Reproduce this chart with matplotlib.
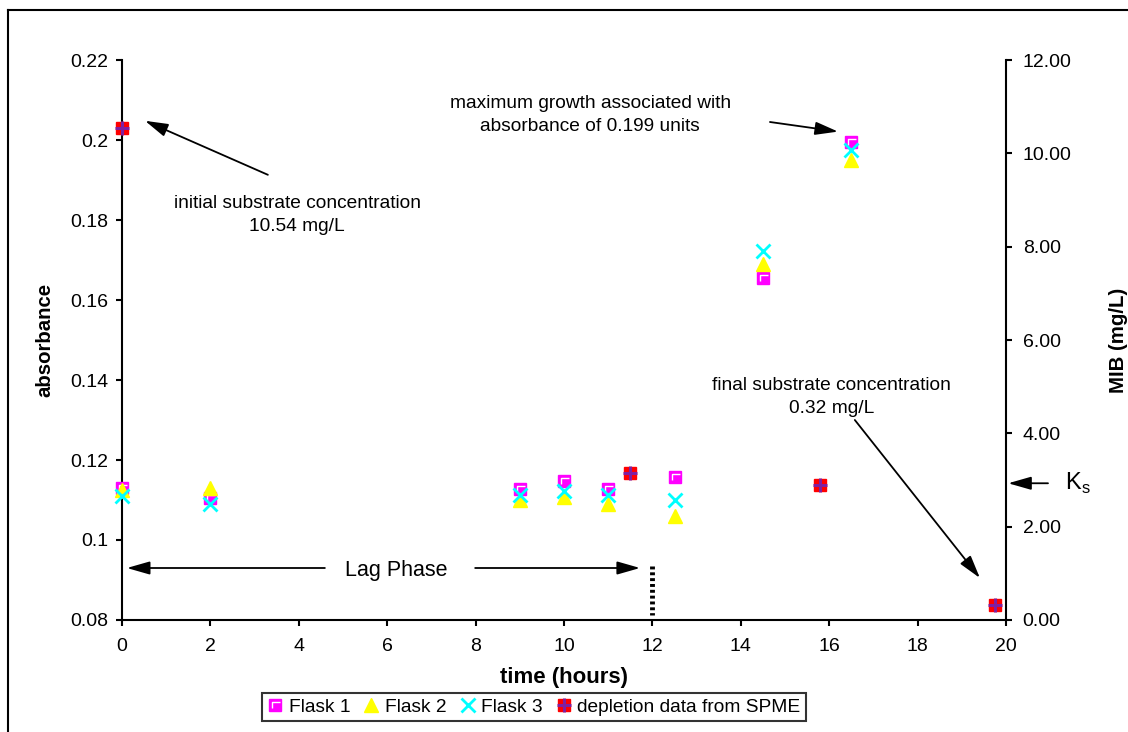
import matplotlib
matplotlib.use("Agg")
import matplotlib.pyplot as plt
from matplotlib.path import Path
from matplotlib.lines import Line2D
from matplotlib.ticker import FormatStrFormatter, MultipleLocator

plt.rcParams['font.family'] = ['Liberation Sans', 'DejaVu Sans']
plt.rcParams['mathtext.fontset'] = 'custom'
plt.rcParams['mathtext.rm'] = 'Liberation Sans'

# absorbance readings of the three flasks
flask_time = [0, 2, 9, 10, 11, 12.5, 14.5, 16.5]
flask1 = [0.113, 0.1105, 0.1128, 0.1147, 0.1128, 0.1157, 0.1656, 0.1995]
flask2 = [0.1125, 0.113, 0.110, 0.1108, 0.109, 0.106, 0.169, 0.195]
flask3 = [0.111, 0.109, 0.1113, 0.1123, 0.1113, 0.110, 0.1722, 0.1975]

# MIB depletion from SPME (mg/L)
spme_time = [0, 11.5, 15.8, 19.75]
spme_mib = [10.54, 3.15, 2.89, 0.32]

ks_value = 2.93
lag_end = 12

fig = plt.figure(figsize=(11.28, 7.32), dpi=100)
ax = fig.add_axes([122 / 1128, 1 - 620 / 732, 884 / 1128, 560 / 732])
ax2 = ax.twinx()

# outer frame (only top/left visible in the crop)
fig.add_artist(Line2D([8 / 1128, 8 / 1128], [0, 1 - 10 / 732], color='black', lw=1.5))
fig.add_artist(Line2D([8 / 1128, 1], [1 - 10 / 732, 1 - 10 / 732], color='black', lw=1.5))

# magenta square with the little white corner highlight
corner = Path([(0.5, 0.5), (-0.24, -0.27), (-0.24, 0.21), (0.36, 0.21)],
              [Path.MOVETO, Path.MOVETO, Path.LINETO, Path.LINETO])

ax.plot(flask_time, flask1, ls='none', marker='s', ms=9, color='#ff00ff', zorder=3,
        clip_on=False)
ax.plot(flask_time, flask1, ls='none', marker=corner, ms=9, mfc='none',
        mec='white', mew=1.0, zorder=3, clip_on=False)
ax.plot(flask_time, flask2, ls='none', marker='^', ms=10.5, color='#ffff00', zorder=4,
        clip_on=False)
ax.plot(flask_time, flask3, ls='none', marker='x', ms=9.5, mew=2.0, color='#00ffff',
        zorder=5, clip_on=False)

ax2.plot(spme_time, spme_mib, ls='none', marker='s', ms=9, color='#ff0000', zorder=3,
         clip_on=False)
ax2.plot(spme_time, spme_mib, ls='none', marker='+', ms=10, mew=2.2, color='#7f1fa0',
         zorder=4, clip_on=False)

ax.set_xlim(0, 20)
ax.set_ylim(0.08, 0.22)
ax2.set_ylim(0, 12)
ax.xaxis.set_major_locator(MultipleLocator(2))
ax.yaxis.set_major_locator(MultipleLocator(0.02))
ax.yaxis.set_major_formatter(FormatStrFormatter('%g'))
ax2.yaxis.set_major_locator(MultipleLocator(2))
ax2.yaxis.set_major_formatter(FormatStrFormatter('%.2f'))

for a in (ax, ax2):
    a.spines['top'].set_visible(False)
    for s in a.spines.values():
        s.set_linewidth(1.5)
ax.spines['right'].set_visible(False)
ax2.spines['left'].set_visible(False)
ax2.spines['bottom'].set_visible(False)
ax.tick_params(direction='out', length=4, width=1.5, labelsize=14, pad=6)
ax.tick_params(axis='x', pad=9)
ax2.tick_params(direction='out', length=4, width=1.5, labelsize=14, pad=8)

ax.set_xlabel('time (hours)', fontsize=16, fontweight='bold')
ax.xaxis.set_label_coords(0.5, -0.084)
ax.set_ylabel('absorbance', fontsize=14.7, fontweight='bold')
ax.yaxis.set_label_coords(-0.077, 0.5)
ax2.set_ylabel('MIB (mg/L)', fontsize=14.7, fontweight='bold')
ax2.yaxis.set_label_coords(1.116, 0.5)

arrow = dict(arrowstyle='-|>,head_length=1.4,head_width=0.4', color='black',
             lw=1.3, shrinkA=0, shrinkB=0)

ax.text(3.96, 0.1813, 'initial substrate concentration\n10.54 mg/L', ha='center',
        va='center', fontsize=13.8, linespacing=1.5)
ax.annotate('', xy=(0.52, 0.2048), xytext=(3.30, 0.1913), arrowprops=arrow)

ax.text(10.59, 0.2063, 'maximum growth associated with\nabsorbance of 0.199 units',
        ha='center', va='center', fontsize=13.8, linespacing=1.5)
ax.annotate('', xy=(16.2, 0.2021), xytext=(14.66, 0.2045), arrowprops=arrow)

ax.text(16.06, 0.1358, 'final substrate concentration\n0.32 mg/L', ha='center',
        va='center', fontsize=13.8, linespacing=1.5)
ax.annotate('', xy=(19.41, 0.0905), xytext=(16.58, 0.130), arrowprops=arrow)

# lag phase
ax.text(6.2, 0.0925, 'Lag Phase', ha='center', va='center', fontsize=15.5)
ax.annotate('', xy=(0.11, 0.093), xytext=(4.59, 0.093), arrowprops=arrow)
ax.annotate('', xy=(11.72, 0.093), xytext=(7.99, 0.093), arrowprops=arrow)
ax.plot([lag_end, lag_end], [0.0935, 0.0812], color='black', lw=3.5,
        ls=(0, (0.6, 0.6)), solid_capstyle='butt')

# Ks marker on the right axis
ax2.annotate('', xy=(20.05, ks_value), xytext=(20.95, ks_value), arrowprops=arrow,
             annotation_clip=False)
ax2.text(21.33, ks_value, r'K$_\mathrm{s}$', ha='left', va='center', fontsize=17,
         clip_on=False)

handles = [
    (Line2D([], [], ls='none', marker='s', ms=9, color='#ff00ff'),
     Line2D([], [], ls='none', marker=corner, ms=9, mfc='none', mec='white', mew=1.0)),
    Line2D([], [], ls='none', marker='^', ms=10.5, color='#ffff00'),
    Line2D([], [], ls='none', marker='x', ms=9.5, mew=2.0, color='#00ffff'),
    (Line2D([], [], ls='none', marker='s', ms=9, color='#ff0000'),
     Line2D([], [], ls='none', marker='+', ms=10, mew=2.2, color='#7f1fa0')),
]
labels = ['Flask 1', 'Flask 2', 'Flask 3', 'depletion data from SPME']
leg = fig.legend(handles, labels, loc='center', bbox_to_anchor=(534 / 1128, 1 - 707 / 732),
                 ncol=4, fontsize=13.8, frameon=True, fancybox=False, edgecolor='black',
                 handlelength=0.8, handletextpad=0.3, columnspacing=0.7,
                 borderpad=0.3, borderaxespad=0)
leg.get_frame().set_linewidth(1.5)

fig.savefig('out.png', dpi=100)
